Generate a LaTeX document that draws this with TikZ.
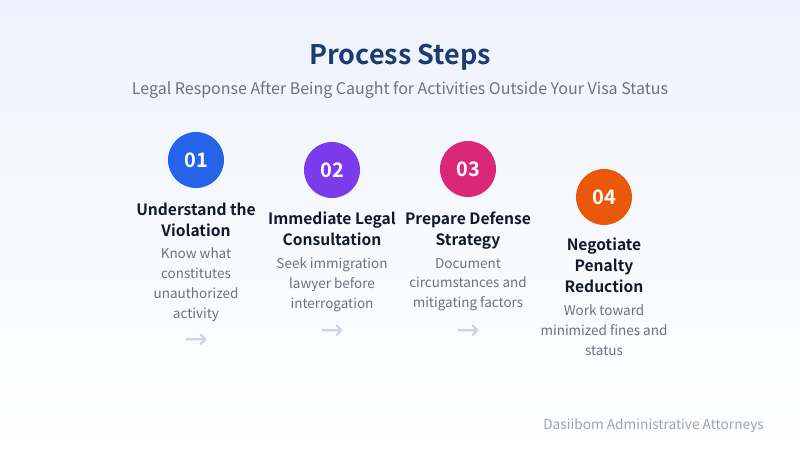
\documentclass[tikz,border=0pt]{standalone}
\usepackage{fontspec}
\setmainfont{Noto Sans CJK KR}[BoldFont={Noto Sans CJK KR Bold}]
\newfontfamily\arrowfont{DejaVu Sans}[Scale=1]
\definecolor{bgtop}{HTML}{EDF2FC}
\definecolor{bgbot}{HTML}{FFFFFF}
\definecolor{titlec}{HTML}{1E3A6E}
\definecolor{subc}{HTML}{6B7280}
\definecolor{headc}{HTML}{111827}
\definecolor{bodyc}{HTML}{6B7280}
\definecolor{arrc}{HTML}{CDD4DF}
\definecolor{footc}{HTML}{9CA3B8}
\definecolor{cA}{HTML}{2563EB}
\definecolor{cB}{HTML}{7C3AED}
\definecolor{cC}{HTML}{DB2777}
\definecolor{cD}{HTML}{EA580C}
\begin{document}
\begin{tikzpicture}[x=1pt,y=-1pt,
  num/.style={circle,minimum size=56pt,inner sep=0pt,text=white,font=\fontsize{20}{20}\selectfont\bfseries},
  head/.style={align=center,text=headc,font=\fontsize{15.6}{21}\selectfont\bfseries,inner sep=0pt},
  body/.style={align=center,text=bodyc,font=\fontsize{13.5}{19.7}\selectfont,inner sep=0pt},
  arr/.style={text=arrc,font=\fontsize{28}{28}\selectfont\arrowfont,inner sep=0pt}]
\useasboundingbox (0,0) rectangle (800,460);
\shade[top color=bgtop,bottom color=bgbot,middle color=bgtop!45!white] (0,0) rectangle (800,460);
\node[text=titlec,font=\fontsize{27}{27}\selectfont\bfseries] (title) at (400,57) {Process Steps};
\node[text=subc,font=\fontsize{16}{16}\selectfont] (sub) at (400,90) {Legal Response After Being Caught for Activities Outside Your Visa Status};
% step 1
\node[num,fill=cA] (n1) at (196,160) {01};
\node[head,anchor=north] (h1) at (196,203) {Understand the\\Violation};
\node[body,anchor=north] (b1) at (196,248) {Know what\\constitutes\\unauthorized\\activity};
\node[arr] (a1) at (196,341) {→};
% step 2
\node[num,fill=cB] (n2) at (332,170) {02};
\node[head,anchor=north] (h2) at (332,212) {Immediate Legal\\Consultation};
\node[body,anchor=north] (b2) at (332,258) {Seek immigration\\lawyer before\\interrogation};
\node[arr] (a2) at (332,332) {→};
% step 3
\node[num,fill=cC] (n3) at (468,169) {03};
\node[head,anchor=north] (h3) at (468,212) {Prepare Defense\\Strategy};
\node[body,anchor=north] (b3) at (468,258) {Document\\circumstances and\\mitigating factors};
\node[arr] (a3) at (468,332) {→};
% step 4
\node[num,fill=cD] (n4) at (604,197) {04};
\node[head,anchor=north] (h4) at (604,238) {Negotiate\\Penalty\\Reduction};
\node[body,anchor=north] (b4) at (604,305) {Work toward\\minimized fines and\\status};
% footer
\node[text=footc,font=\fontsize{13.7}{13.7}\selectfont,anchor=east,inner sep=0pt] (foot) at (764,426) {Dasiibom Administrative Attorneys};
\end{tikzpicture}
\end{document}
